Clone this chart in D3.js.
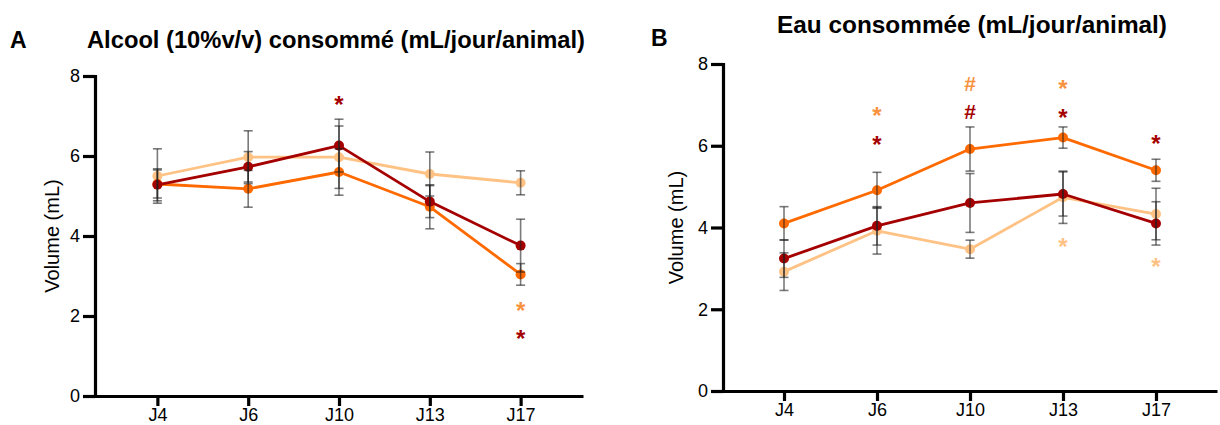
<!DOCTYPE html>
<html>
<head>
<meta charset="utf-8">
<script src="https://cdn.jsdelivr.net/npm/d3@7"></script>
<style>
  html, body { margin: 0; padding: 0; background: #fff; }
  svg { display: block; font-family: "Liberation Sans", Arial, sans-serif; }
</style>
</head>
<body>
<svg id="chart" width="1220" height="425"></svg>
<script>
// ---------- data ----------
const days = ["J4", "J6", "J10", "J13", "J17"];
const yTicks = [0, 2, 4, 6, 8];
const groupNames = ["peach", "orange", "dark"];

// Panel A : Alcool (10% v/v) consommé
const alcMeanPeach  = [5.50, 5.97, 5.97, 5.55, 5.33];
const alcErrPeach   = [0.68, 0.66, 0.78, 0.55, 0.30];
const alcMeanOrange = [5.30, 5.18, 5.60, 4.73, 3.04];
const alcErrOrange  = [0.35, 0.46, 0.58, 0.55, 0.27];
const alcMeanDark   = [5.28, 5.73, 6.26, 4.86, 3.76];
const alcErrDark    = [0.40, 0.38, 0.66, 0.40, 0.66];

// Panel B : Eau consommée
const eauMeanPeach  = [2.92, 3.92, 3.47, 4.74, 4.33];
const eauErrPeach   = [0.46, 0.57, 0.22, 0.64, 0.63];
const eauMeanOrange = [4.10, 4.91, 5.92, 6.20, 5.40];
const eauErrOrange  = [0.41, 0.44, 0.54, 0.26, 0.27];
const eauMeanDark   = [3.24, 4.04, 4.60, 4.82, 4.10];
const eauErrDark    = [0.46, 0.47, 0.72, 0.54, 0.53];

// significance marks: [day, symbol, group, y position in data units]
const alcMarks = [
  ["J10", "*", "dark", 7.43],
  ["J17", "*", "orange", 2.28],
  ["J17", "*", "dark", 1.58]
];
const eauMarks = [
  ["J6", "*", "orange", 6.87],
  ["J6", "*", "dark", 6.17],
  ["J10", "#", "orange", 7.53],
  ["J10", "#", "dark", 6.83],
  ["J13", "*", "orange", 7.53],
  ["J13", "*", "dark", 6.83],
  ["J13", "*", "peach", 3.68],
  ["J17", "*", "dark", 6.19],
  ["J17", "*", "peach", 3.19]
];

// ---------- styles ----------
const lineColor = { peach: "#FFC285", orange: "#FF6A00", dark: "#A50000" };
const markColor = { peach: "#FFC285", orange: "#F7923F", dark: "#A50000" };

const svg = d3.select("#chart");

function panel(cfg) {
  const x = d3.scalePoint().domain(days).range([cfg.x0, cfg.x1]).padding(cfg.pad);
  const y = d3.scaleLinear().domain([0, 8]).range([cfg.y0, cfg.y1]);
  const g = svg.append("g");

  // axes
  const yAxis = d3.axisLeft(y).tickValues(yTicks).tickSize(12).tickSizeOuter(0).tickPadding(3);
  const gy = g.append("g").attr("transform", `translate(${cfg.x0},0)`).call(yAxis);
  const xAxis = d3.axisBottom(x).tickSize(10).tickSizeOuter(0).tickPadding(2);
  const gx = g.append("g").attr("transform", `translate(0,${cfg.y0})`).call(xAxis);
  [gx, gy].forEach(a => {
    a.select(".domain").attr("stroke", "#000").attr("stroke-width", 3.2);
    a.selectAll(".tick line").attr("stroke", "#000").attr("stroke-width", 3.2);
    a.selectAll(".tick text").attr("fill", "#000").attr("font-size", 18)
      .attr("font-family", '"Liberation Sans", Arial, sans-serif');
  });
  gy.select(".domain").attr("stroke-linecap", "square");

  // y label
  g.append("text")
    .attr("transform", `translate(${cfg.labelX},${(cfg.y0 + cfg.y1) / 2}) rotate(-90)`)
    .attr("text-anchor", "middle").attr("dominant-baseline", "central")
    .attr("font-size", 20).attr("fill", "#000").text("Volume (mL)");

  // series
  const series = groupNames.map((n, i) => ({ name: n, mean: cfg.means[i], err: cfg.errs[i] }));
  const line = d3.line().x((d, i) => x(days[i])).y(d => y(d));

  series.forEach(s => {
    g.append("path").datum(s.mean)
      .attr("d", line).attr("fill", "none")
      .attr("stroke", lineColor[s.name]).attr("stroke-width", 2.8)
      .attr("stroke-linejoin", "round");
    g.selectAll(null).data(s.mean).enter().append("circle")
      .attr("cx", (d, i) => x(days[i])).attr("cy", d => y(d)).attr("r", 5)
      .attr("fill", lineColor[s.name]);
  });

  // error bars
  series.forEach(s => {
    const eb = g.append("g").attr("stroke", "#222").attr("stroke-opacity", 0.6).attr("stroke-width", 1.6);
    s.mean.forEach((m, i) => {
      const cx = x(days[i]), e = s.err[i];
      eb.append("line").attr("x1", cx).attr("x2", cx).attr("y1", y(m - e)).attr("y2", y(m + e));
      [m - e, m + e].forEach(v => {
        eb.append("line").attr("x1", cx - 4.5).attr("x2", cx + 4.5).attr("y1", y(v)).attr("y2", y(v));
      });
    });
  });

  // significance marks
  cfg.marks.forEach(([day, sym, grp, v]) => {
    const fs = sym === "*" ? 24 : 21;
    const off = sym === "*" ? fs * 0.58 : fs * 0.36;
    g.append("text")
      .attr("x", x(day)).attr("y", y(v) + off)
      .attr("text-anchor", "middle").attr("font-weight", "bold")
      .attr("font-size", fs).attr("fill", markColor[grp]).text(sym);
  });

  // titles
  g.append("text").attr("x", cfg.letterX).attr("y", cfg.letterY)
    .attr("font-size", 23).attr("font-weight", "bold").attr("fill", "#000").text(cfg.letter);
  g.append("text").attr("x", cfg.titleX).attr("y", cfg.titleY)
    .attr("font-size", 23).attr("font-weight", "bold").attr("fill", "#000")
    .attr("textLength", cfg.titleW).attr("lengthAdjust", "spacingAndGlyphs")
    .text(cfg.title);
}

panel({
  x0: 95, x1: 583, pad: 0.687, y0: 396, y1: 76, labelX: 52,
  means: [alcMeanPeach, alcMeanOrange, alcMeanDark],
  errs: [alcErrPeach, alcErrOrange, alcErrDark],
  marks: alcMarks,
  letter: "A", letterX: 10, letterY: 48,
  title: "Alcool (10%v/v) consommé (mL/jour/animal)", titleX: 87, titleY: 48, titleW: 498
});

panel({
  x0: 723, x1: 1217, pad: 0.656, y0: 391, y1: 64, labelX: 676,
  means: [eauMeanPeach, eauMeanOrange, eauMeanDark],
  errs: [eauErrPeach, eauErrOrange, eauErrDark],
  marks: eauMarks,
  letter: "B", letterX: 651, letterY: 46,
  title: "Eau consommée (mL/jour/animal)", titleX: 777, titleY: 33, titleW: 390
});
</script>
</body>
</html>
